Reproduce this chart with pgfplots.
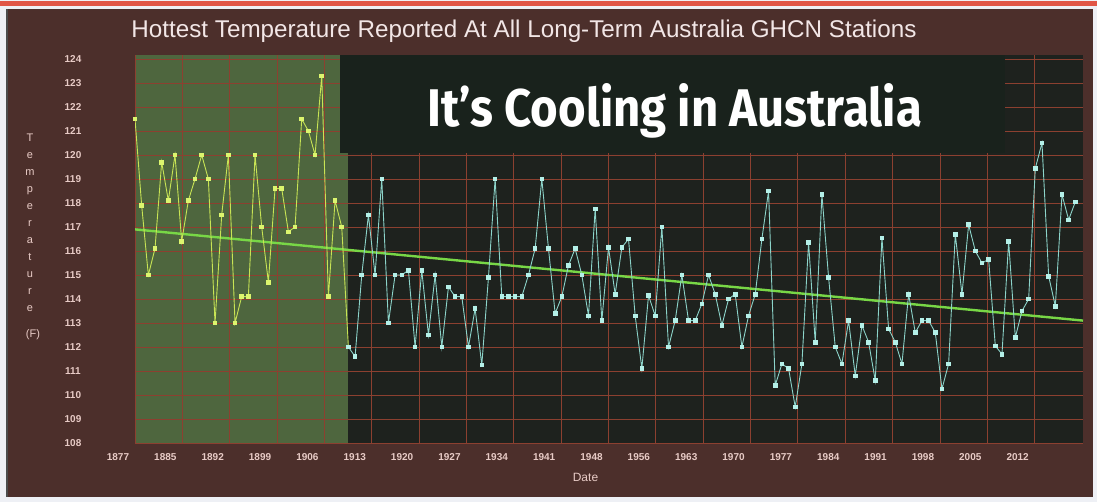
\documentclass[border=0pt]{standalone}
\usepackage{pgfplots}
\pgfplotsset{compat=1.18}
\usepackage{fontspec}
\setmainfont{Liberation Sans}
\newfontfamily\fira{Fira Sans}
\definecolor{pagewhite}{RGB}{238,240,245}
\definecolor{redline}{RGB}{225,85,70}
\definecolor{framebrown}{RGB}{76,47,43}
\definecolor{plotdark}{RGB}{30,34,30}
\definecolor{overlaydark}{RGB}{25,34,28}
\definecolor{greenbg}{RGB}{78,102,62}
\definecolor{gridc}{RGB}{140,64,48}
\definecolor{yel}{RGB}{200,228,85}
\definecolor{yelmark}{RGB}{220,245,110}
\definecolor{cyn}{RGB}{140,212,202}
\definecolor{cynmark}{RGB}{180,240,232}
\definecolor{trend}{RGB}{120,215,70}
\definecolor{txt}{RGB}{232,203,198}
\definecolor{titlec}{RGB}{242,230,230}

\pgfplotstableread{
year temp
1877 121.5
1878 117.9
1879 115.0
1880 116.1
1881 119.7
1882 118.1
1883 120.0
1884 116.4
1885 118.1
1886 119.0
1887 120.0
1888 119.0
1889 113.0
1890 117.5
1891 120.0
1892 113.0
1893 114.1
1894 114.1
1895 120.0
1896 117.0
1897 114.7
1898 118.6
1899 118.6
1900 116.8
1901 117.0
1902 121.5
1903 121.0
1904 120.0
1905 123.3
1906 114.1
1907 118.1
1908 117.0
1909 112.0
}\earlydata

\pgfplotstableread{
year temp
1909 112.0
1910 111.6
1911 115.0
1912 117.5
1913 115.0
1914 119.0
1915 113.0
1916 115.0
1917 115.0
1918 115.2
1919 112.0
1920 115.2
1921 112.5
1922 115.0
1923 112.0
1924 114.5
1925 114.1
1926 114.1
1927 112.0
1928 113.6
1929 111.25
1930 114.9
1931 119.0
1932 114.1
1933 114.1
1934 114.1
1935 114.1
1936 115.0
1937 116.1
1938 119.0
1939 116.1
1940 113.4
1941 114.1
1942 115.4
1943 116.1
1944 115.0
1945 113.3
1946 117.75
1947 113.1
1948 116.15
1949 114.2
1950 116.15
1951 116.5
1952 113.3
1953 111.1
1954 114.15
1955 113.3
1956 117.0
1957 112.0
1958 113.1
1959 115.0
1960 113.1
1961 113.1
1962 113.8
1963 115.0
1964 114.2
1965 112.9
1966 114.0
1967 114.2
1968 112.0
1969 113.3
1970 114.2
1971 116.5
1972 118.5
1973 110.4
1974 111.3
1975 111.1
1976 109.5
1977 111.3
1978 116.35
1979 112.2
1980 118.35
1981 114.9
1982 112.0
1983 111.3
1984 113.1
1985 110.8
1986 112.9
1987 112.2
1988 110.6
1989 116.55
1990 112.75
1991 112.2
1992 111.3
1993 114.2
1994 112.6
1995 113.1
1996 113.1
1997 112.6
1998 110.25
1999 111.3
2000 116.7
2001 114.2
2002 117.1
2003 116.0
2004 115.5
2005 115.65
2006 112.05
2007 111.7
2008 116.4
2009 112.4
2010 113.5
2011 114.0
2012 119.45
2013 120.5
2014 114.95
2015 113.7
2016 118.35
2017 117.3
2018 118.05
}\latedata

\begin{document}
\begin{tikzpicture}
% page and frame
\fill[pagewhite] (0pt,0pt) rectangle (1097pt,502pt);
\fill[redline] (0pt,496pt) rectangle (1097pt,500.5pt);
\fill[framebrown] (7pt,5pt) rectangle (1093pt,493pt);
\draw[black!70, line width=1.2pt] (7pt,5pt) -- (7pt,493pt);

% background axis (plot area fills)
\begin{axis}[
  at={(135pt,59pt)}, anchor=south west,
  scale only axis, width=948pt, height=388pt,
  xmin=1877, xmax=2019.15, ymin=108, ymax=124.1667,
  axis line style={draw=none}, ticks=none,
]
\fill[plotdark] (axis cs:1877,108) rectangle (axis cs:2019.15,124.1667);
\fill[greenbg] (axis cs:1877,108) rectangle (axis cs:1908.9,124.1667);
\end{axis}

% main axis
\begin{axis}[
  at={(135pt,59pt)}, anchor=south west,
  scale only axis, width=948pt, height=388pt,
  xmin=1877, xmax=2019.15, ymin=108, ymax=124.1667,
  axis line style={draw=none},
  major tick length=0pt,
  xtick={1877,1884.1,1891.2,1898.3,1905.4,1912.5,1919.6,1926.7,1933.8,1940.9,1948.0,1955.1,1962.2,1969.3,1976.4,1983.5,1990.6,1997.7,2004.8,2011.9},
  xticklabels={1877,1885,1892,1899,1906,1913,1920,1927,1934,1941,1948,1956,1963,1970,1977,1984,1991,1998,2005,2012},
  ytick={108,109,...,124},
  grid=major,
  major grid style={draw=gridc, line width=0.9pt},
  /pgf/number format/assume math mode=true,
  xticklabel style={font=\fontsize{10}{12}\selectfont\bfseries, text=txt, anchor=center, xshift=-17pt, yshift=-14pt},
  yticklabel style={font=\fontsize{10}{12}\selectfont\bfseries, text=txt, anchor=center, xshift=-62pt},
]
\fill[overlaydark] (axis cs:1907.7,120.07) rectangle (axis cs:2007.5,124.1667);
\addplot[color=trend, line width=2.4pt] coordinates {(1877,116.9) (2019.15,113.1)};
\addplot[color=yel, line width=0.9pt, mark=square*, mark size=1.8pt,
  mark options={fill=yelmark, draw=yelmark}] table[x=year, y=temp] {\earlydata};
\addplot[color=cyn, line width=0.9pt, mark=square*, mark size=1.8pt,
  mark options={fill=cynmark, draw=cynmark}] table[x=year, y=temp] {\latedata};
\end{axis}

% texts
\node[anchor=base, text=titlec, inner sep=0pt] at (524pt,464pt)
  {\resizebox{785pt}{!}{Hottest Temperature Reported At All Long-Term Australia GHCN Stations}};
\node[anchor=base, text=white, inner sep=0pt] at (675pt,375pt)
  {\resizebox{494pt}{43pt}{\fira\bfseries It’s Cooling in Australia}};
\node[text=txt, font=\fontsize{12}{14}\selectfont, inner sep=0pt] at (585.5pt,25pt) {Date};
\foreach \c [count=\i] in {T,e,m,p,e,r,a,t,u,r,e}
  \node[anchor=base, text=txt, font=\fontsize{11}{13}\selectfont, inner sep=0pt] at (30pt,{(502-142-17*(\i-1))*1pt}) {\c};
\node[anchor=base, text=txt, font=\fontsize{11}{13}\selectfont, inner sep=0pt] at (33pt,164pt) {(F)};

\pgfresetboundingbox
\useasboundingbox (0pt,0pt) rectangle (1097pt,502pt);
\end{tikzpicture}
\end{document}
